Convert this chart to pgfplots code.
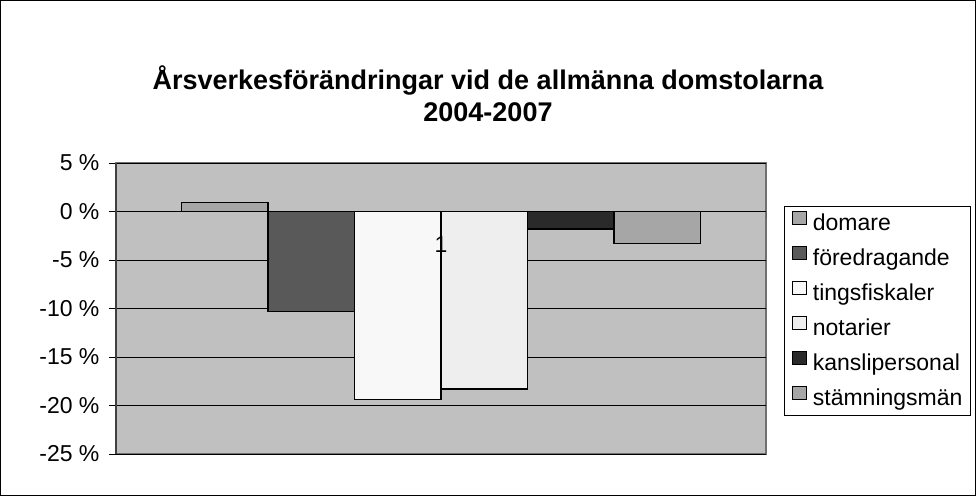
\documentclass[border=0pt]{standalone}
\usepackage{fontspec}
\setmainfont{Liberation Sans}
\usepackage{pgfplots}
\pgfplotsset{compat=1.18}
\pgfplotsset{layers/labelstop/.define layer set={axis background,axis grid,axis ticks,pre main,main,axis lines,axis tick labels,axis descriptions,axis foreground}{}}
\definecolor{plotbg}{HTML}{C0C0C0}
\definecolor{cdom}{HTML}{A6A6A6}
\definecolor{cfor}{HTML}{595959}
\definecolor{cting}{HTML}{F8F8F8}
\definecolor{cnot}{HTML}{EEEEEE}
\definecolor{ckan}{HTML}{2A2A2A}
\definecolor{cstam}{HTML}{A6A6A6}
\definecolor{frame}{HTML}{707070}
\begin{document}
\begin{tikzpicture}
\node[font=\fontsize{27}{32}\selectfont\bfseries, align=center] at (488pt,402.5pt) {Årsverkesförändringar vid de allmänna domstolarna\\2004-2007};
\begin{axis}[
  set layers=labelstop,
  at={(116pt,42pt)}, anchor=south west,
  scale only axis, width=650pt, height=291pt,
  xmin=-0.5, xmax=0.5, ymin=-25, ymax=5,
  ybar=0pt, bar width=86.5pt,
  axis x line*=middle, axis y line*=left,
  axis background/.style={fill=plotbg, draw=frame, line width=1.5pt},
  x axis line style={-, draw=black, line width=1pt},
  y axis line style={-, draw=black!75, line width=1.5pt},
  xtick={0}, xticklabels={1},
  xtick style={draw=none},
  xticklabel style={font=\fontsize{23}{26}\selectfont, yshift=-14pt},
  ytick={-25,-20,...,5},
  ytick style={black, line width=1pt},
  tick align=outside,
  major tick length=7pt,
  yticklabel={\pgfmathprintnumber{\tick}~\%},
  yticklabel style={font=\fontsize{23}{26}\selectfont, xshift=-6pt},
  /pgf/number format/assume math mode=true,
  ymajorgrids, grid style={black, line width=0.9pt},
  every axis plot/.append style={draw=black, line width=1.3pt},
  legend image code/.code={\draw[#1,draw=black,line width=1pt] (0pt,0pt) rectangle (14pt,13pt);},
  legend style={at={(1.0277,0.852)}, anchor=north west, draw=black, line width=0.8pt,
    font=\fontsize{23}{26}\selectfont, row sep=11pt, inner xsep=7.5pt, inner ysep=5pt,
    nodes={text height=16pt, text depth=5pt, inner sep=0pt, line width=1pt}},
  legend cell align=left,
  legend style={/tikz/every odd column/.append style={column sep=6pt}},
]
\addplot[fill=cdom] coordinates {(0,0.9)};
\addlegendentry{domare}
\addplot[fill=cfor] coordinates {(0,-10.3)};
\addlegendentry{föredragande}
\addplot[fill=cting] coordinates {(0,-19.4)};
\addlegendentry{tingsfiskaler}
\addplot[fill=cnot] coordinates {(0,-18.3)};
\addlegendentry{notarier}
\addplot[fill=ckan] coordinates {(0,-1.8)};
\addlegendentry{kanslipersonal}
\addplot[fill=cstam] coordinates {(0,-3.3)};
\addlegendentry{stämningsmän}
\draw[black, line width=0.9pt] (axis cs:0.5,0) -- ++(0pt,-7pt);
\node[anchor=base, inner sep=0pt, font=\fontsize{23}{26}\selectfont] at ([yshift=-41pt]axis cs:0,0) {1};
\end{axis}
\draw[black,line width=1pt] (0.5pt,0.5pt) rectangle (975.5pt,495.5pt);
\end{tikzpicture}
\end{document}
